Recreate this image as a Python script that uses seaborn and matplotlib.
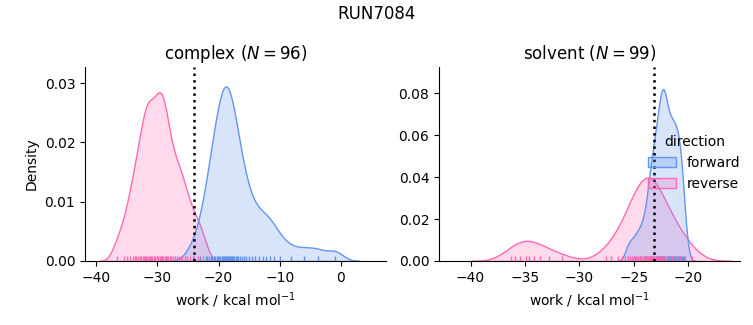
import numpy as np
import pandas as pd
import matplotlib
matplotlib.use("Agg")
import matplotlib.pyplot as plt
import seaborn as sns

run_name = "RUN7084"
phases = ["complex", "solvent"]
directions = ["forward", "reverse"]
colors = {"forward": "cornflowerblue", "reverse": "hotpink"}

complex_forward = [-24.2, -23.0, -21.8, -22.0, -21.6, -21.3, -21.0, -20.7, -20.5, -20.3,
                   -20.1, -19.9, -19.7, -19.5, -19.35, -19.2, -19.05, -18.9, -18.75, -18.6,
                   -18.45, -18.3, -18.15, -18.0, -17.8, -17.6, -17.4, -17.2, -17.0, -16.8,
                   -16.5, -16.2, -15.9, -15.5, -15.1, -14.6, -14.0, -13.4,
                   -12.8, -12.2, -11.6, -10.9, -18.85, -9.9, -8.2, -6.0, -3.8, -1.0]
complex_reverse = [-36.6, -35.5, -34.9, -34.4, -34.0, -33.7, -33.4, -33.1, -32.8, -32.6,
                   -32.4, -32.2, -32.0, -31.8, -31.6, -31.4, -31.2, -31.0, -30.8, -30.5,
                   -30.3, -30.0, -29.8, -29.6, -29.4, -29.2, -29.0, -28.8, -28.6, -28.4,
                   -28.2, -28.0, -27.7, -27.4, -27.1, -26.8, -26.5, -26.2, -25.9, -25.5,
                   -25.1, -24.6, -24.0, -23.3, -22.5, -31.3, -29.9, -29.3]
solvent_forward = [-25.5, -25.0, -24.6, -24.3, -24.0, -23.8,
                   -23.6, -23.45, -23.3, -23.15, -23.0, -22.9, -22.8, -22.7, -22.6, -22.5,
                   -22.4, -22.3, -22.2, -22.1, -22.0, -21.9, -21.8, -21.7, -21.6, -21.5,
                   -21.4, -21.3, -21.2, -21.1, -21.0, -20.9, -20.8, -20.7, -20.6, -20.5, -20.4,
                   -22.65, -22.45, -22.35, -22.25, -22.15, -21.85, -21.55, -23.2, -22.95,
                   -21.25, -20.85, -23.5]
solvent_reverse = [-36.3, -35.9, -35.5, -34.9, -34.6, -34.2, -33.6, -32.8, -31.6,
                   -27.6, -27.1, -26.5, -26.1, -25.8, -25.5, -25.2, -25.0, -24.8, -24.6,
                   -24.4, -24.2, -24.1, -24.0, -23.9, -23.8, -23.7, -23.6, -23.5, -23.4,
                   -23.3, -23.2, -23.0, -22.8, -22.6, -22.4, -22.2, -22.0, -21.8, -21.5,
                   -21.2, -20.8, -20.3, -19.7, -24.3, -23.85, -23.15, -24.9, -22.9, -25.35, -21.0]
free_energy = {"complex": -24.0, "solvent": -23.15}

rows = []
for phase, fwd, rev in [("complex", complex_forward, complex_reverse),
                        ("solvent", solvent_forward, solvent_reverse)]:
    for v in fwd:
        rows.append((phase, "forward", v))
    for v in rev:
        rows.append((phase, "reverse", v))
df = pd.DataFrame(rows, columns=["phase", "direction", "work"])

g = sns.displot(df, x="work", hue="direction", col="phase", kind="kde", fill=True,
                rug=True, hue_order=directions, col_order=phases, palette=colors,
                bw_adjust=0.6,
                facet_kws=dict(sharex=False, sharey=False), height=3.25, aspect=1.1)
fig = g.figure
fig.set_size_inches(7.53, 3.25)
fig.set_dpi(100)

W, H = 753, 325
ax1, ax2 = g.axes.flat
ax1.set_position([85 / W, (H - 261) / H, 301 / W, 194 / H])
ax2.set_position([439 / W, (H - 261) / H, 301 / W, 194 / H])

for ax, phase in zip([ax1, ax2], phases):
    n = int((df["phase"] == phase).sum())
    ax.set_title(f"{phase} ($N = {n}$)", fontsize=12)
    ax.axvline(free_energy[phase], color="black", linestyle=":", linewidth=1.8)
    ax.set_xlabel("work / kcal mol$^{-1}$")
ax1.set_ylabel("Density")
ax2.set_ylabel("")
ax1.set_xlim(-41.8, 7.35)
ax1.set_ylim(0, 0.0327)
ax2.set_xlim(-42.9, -15.25)
ax2.set_ylim(0, 0.0924)

sns.move_legend(g, "upper left", bbox_to_anchor=(0.844, 0.623), frameon=False)
fig.suptitle(run_name, fontsize=12, y=0.985)

fig.savefig("out.png", dpi=100)
